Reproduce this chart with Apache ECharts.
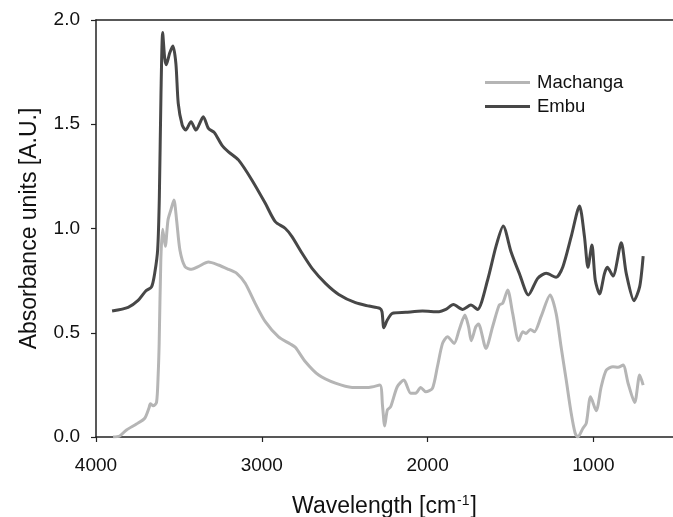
<!DOCTYPE html>
<html>
<head>
<meta charset="utf-8">
<script src="https://cdn.jsdelivr.net/npm/echarts@6/dist/echarts.min.js"></script>
<style>html,body{margin:0;padding:0;background:#fff}#c{width:673px;height:517px}</style>
</head>
<body>
<div id="c"></div>
<script>
// Wavenumber (cm^-1) and absorbance values
const seriesNames = ['Machanga', 'Embu'];
const xTickValues = [1000, 2000, 3000, 4000];
const yTickValues = [0, 0.5, 1.0, 1.5, 2.0];

const machangaX = [3897,3857,3816,3756,3706,3680,3672,3655,3635,3625,3619,3609,3598,3582,3566,3548,3530,3514,3494,3463,3423,3383,3322,3262,3201,3151,3100,3040,2979,2899,2828,2798,2737,2657,2556,2455,2354,2288,2272,2259,2243,2223,2183,2143,2102,2072,2042,2011,1971,1941,1910,1880,1840,1810,1775,1753,1737,1709,1693,1648,1608,1568,1547,1517,1487,1451,1426,1406,1380,1356,1316,1261,1225,1195,1164,1134,1110,1094,1063,1043,1017,983,953,922,882,852,821,791,751,721,700];
const machangaY = [0.0,0.005,0.034,0.062,0.09,0.14,0.16,0.15,0.165,0.3,0.45,0.85,0.996,0.915,1.04,1.09,1.137,1.041,0.897,0.817,0.804,0.817,0.839,0.825,0.804,0.785,0.737,0.641,0.553,0.48,0.446,0.43,0.361,0.297,0.258,0.238,0.238,0.249,0.15,0.053,0.129,0.145,0.241,0.273,0.21,0.21,0.238,0.217,0.233,0.337,0.449,0.481,0.449,0.513,0.585,0.529,0.462,0.529,0.542,0.425,0.529,0.633,0.641,0.705,0.593,0.462,0.505,0.497,0.516,0.505,0.577,0.681,0.593,0.433,0.273,0.114,0.018,0.0,0.042,0.066,0.193,0.126,0.241,0.321,0.337,0.334,0.345,0.258,0.165,0.297,0.249];

const embuX = [3903,3806,3746,3700,3665,3645,3628,3618,3608,3598,3586,3576,3556,3536,3518,3504,3480,3459,3427,3397,3353,3322,3286,3241,3201,3141,3060,2979,2919,2858,2818,2757,2697,2616,2536,2435,2354,2288,2275,2264,2243,2213,2132,2031,1931,1890,1844,1789,1739,1699,1638,1588,1544,1497,1447,1392,1336,1285,1225,1184,1134,1084,1054,1033,1009,989,963,933,916,882,832,802,755,721,700];
const embuY = [0.604,0.622,0.655,0.7,0.72,0.79,0.9,1.15,1.65,1.94,1.82,1.785,1.84,1.875,1.79,1.60,1.496,1.472,1.512,1.472,1.536,1.48,1.46,1.40,1.368,1.329,1.233,1.121,1.033,1.0,0.961,0.881,0.809,0.737,0.684,0.644,0.628,0.617,0.6,0.524,0.561,0.593,0.598,0.604,0.601,0.612,0.635,0.612,0.633,0.612,0.753,0.913,1.012,0.889,0.785,0.681,0.761,0.785,0.766,0.817,0.961,1.108,0.961,0.814,0.921,0.753,0.686,0.785,0.814,0.772,0.932,0.785,0.654,0.721,0.868];

const pairs = (xs, ys) => xs.map((x, i) => [x, ys[i]]);

const FONT = '"Liberation Sans", Arial, Helvetica, sans-serif';
const chart = echarts.init(document.getElementById('c'), null, {renderer: 'canvas'});
chart.setOption({
  backgroundColor: '#fff',
  animation: false,
  textStyle: {fontFamily: FONT},
  grid: {left: 96, top: 20, width: 577, height: 417, containLabel: false, outerBoundsMode: 'none'},
  legend: {
    orient: 'vertical', left: 480, top: 68, itemWidth: 45, itemHeight: 3, itemGap: 5,
    icon: 'rect',
    textStyle: {fontFamily: FONT, fontSize: 18.5, color: '#111', padding: [0,0,0,2]},
    data: seriesNames
  },
  xAxis: [{
    type: 'value', inverse: true, min: 520, max: 4000,
    position: 'bottom',
    name: '{a|Wavelength [cm}{s|-1}{a|]}',
    nameLocation: 'middle', nameGap: 57,
    nameTextStyle: {rich: {
      a: {fontFamily: FONT, fontSize: 23, color: '#111'},
      s: {fontFamily: FONT, fontSize: 14, color: '#111', verticalAlign: 'top', padding: [0,1,12,1]}
    }},
    axisLine: {show: true, onZero: false, lineStyle: {color: '#222', width: 1.5}},
    axisTick: {show: true, inside: false, length: 5, customValues: xTickValues, lineStyle: {color: '#222', width: 1.2}},
    axisLabel: {customValues: xTickValues, fontSize: 19, color: '#111', margin: 19, fontFamily: FONT,
      formatter: v => String(Math.round(v))},
    splitLine: {show: false}
  }, {
    type: 'value', inverse: true, min: 520, max: 4000, position: 'top',
    axisLine: {show: true, onZero: false, lineStyle: {color: '#222', width: 1.5}},
    axisTick: {show: false}, axisLabel: {show: false}, splitLine: {show: false}
  }],
  yAxis: {
    type: 'value', min: 0, max: 2, interval: 0.5,
    name: 'Absorbance units [A.U.]', nameLocation: 'middle', nameGap: 55,
    nameTextStyle: {fontFamily: FONT, fontSize: 23, color: '#111'},
    axisLine: {show: true, lineStyle: {color: '#222', width: 1.5}},
    axisTick: {show: true, inside: false, length: 5, lineStyle: {color: '#222', width: 1.2}},
    axisLabel: {fontSize: 19, color: '#111', margin: 16, fontFamily: FONT,
      formatter: v => v.toFixed(1)},
    splitLine: {show: false}
  },
  series: [{
    name: seriesNames[0], type: 'line', xAxisIndex: 0, symbol: 'none', smooth: 0.25,
    data: pairs(machangaX, machangaY),
    lineStyle: {color: '#b5b5b5', width: 3}, itemStyle: {color: '#b5b5b5'}, z: 2
  }, {
    name: seriesNames[1], type: 'line', xAxisIndex: 0, symbol: 'none', smooth: 0.25,
    data: pairs(embuX, embuY),
    lineStyle: {color: '#474747', width: 3}, itemStyle: {color: '#474747'}, z: 3
  }]
});
</script>
</body>
</html>
